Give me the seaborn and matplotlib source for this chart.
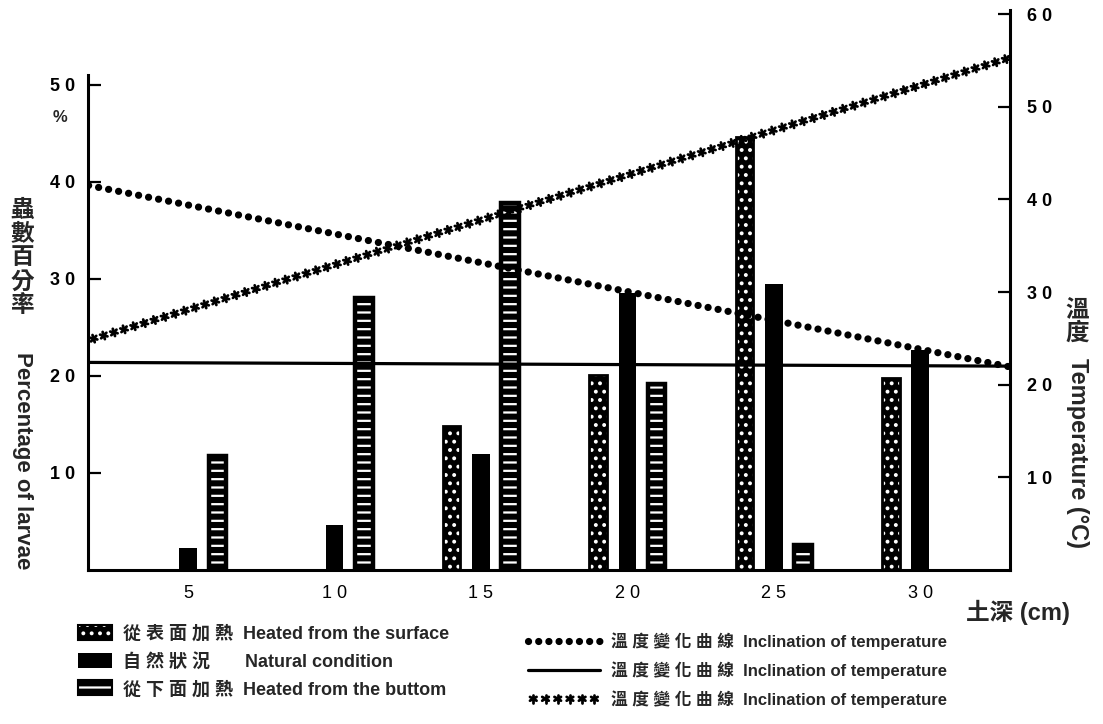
import numpy as np
import pandas as pd
import matplotlib
matplotlib.use("Agg")
import matplotlib.pyplot as plt
import matplotlib.patheffects as pe
from matplotlib.patches import Patch
from matplotlib.lines import Line2D
import matplotlib.colors as mcolors
import seaborn as sns

# ---------------- data ----------------
depths = [5, 10, 15, 20, 25, 30]
treatments = ["surface", "natural", "bottom"]
pct_surface = [0, 0, 14.8, 20.1, 44.6, 19.8]
pct_natural = [2.3, 4.6, 12.0, 28.5, 29.5, 22.7]
pct_bottom = [11.8, 28.0, 37.8, 19.2, 2.6, 0]

line_depth = [1.6, 33.1]
temp_surface = [41.5, 21.9]
temp_natural = [22.4, 22.0]
temp_bottom = [24.8, 55.3]

x_ticklabels = ["5", "1 0", "1 5", "2 0", "2 5", "3 0"]
left_ticks = [10, 20, 30, 40, 50]
left_ticklabels = ["1 0", "2 0", "3 0", "4 0", "5 0"]
right_ticks = [10, 20, 30, 40, 50, 60]
right_ticklabels = ["1 0", "2 0", "3 0", "4 0", "5 0", "6 0"]

bar_labels = ["從 表 面 加 熱  Heated from the surface",
              "自 然 狀 況       Natural condition",
              "從 下 面 加 熱  Heated from the buttom"]
line_labels = ["溫 度 變 化 曲 線  Inclination of temperature"] * 3

# ---------------- style ----------------
sns.set_theme(style="white")
plt.rcParams["font.family"] = ["Liberation Sans", "Noto Sans CJK TC"]
plt.rcParams["hatch.linewidth"] = 1.6

W, H = 1103, 724
fig = plt.figure(figsize=(W / 100, H / 100), dpi=100)
fig.patch.set_facecolor("white")


def fx(px):
    return px / W


def fy(py):
    return 1 - py / H


WHITE = mcolors.to_rgba("white")
hatches = ["..", None, "--"]
edge_lw = [2.0, 0, 3.2]


def style_bar(p, h, lw):
    p.set_facecolor("black")
    p.set_edgecolor("black")
    p.set_linewidth(lw)
    if h:
        p.set_hatch(h)
        p._hatch_color = WHITE
    if p.get_height() == 0:
        p.set_visible(False)


ax = fig.add_axes([fx(88), fy(570), fx(1010) - fx(88), fy(14) - fy(570)])
ax.set_facecolor("white")

df = pd.DataFrame({
    "depth": depths * 3,
    "treatment": np.repeat(treatments, len(depths)),
    "pct": pct_surface + pct_natural + pct_bottom,
})
sns.barplot(data=df, x="depth", y="pct", hue="treatment", hue_order=treatments,
            native_scale=True, width=0.6, gap=0.4, palette=["black"] * 3,
            errorbar=None, legend=False, ax=ax)

for cont, h, lw in zip(ax.containers, hatches, edge_lw):
    for bar in cont:
        style_bar(bar, h, lw)

ax.set_xlim(1.58, 33.07)
ax.set_ylim(0, 57.3)
ax.set_xlabel("")
ax.set_ylabel("")
ax.set_xticks(depths, x_ticklabels, fontsize=13)
ax.set_yticks(left_ticks, left_ticklabels, fontsize=13, fontweight="bold")
ax.tick_params(axis="x", length=0, pad=11, colors="black")
ax.tick_params(axis="y", direction="in", length=9, width=1.6, left=True,
               pad=9, colors="black")
for s in ["top", "right"]:
    ax.spines[s].set_visible(False)
ax.spines["left"].set_bounds(0, 51)
for s in ["left", "bottom"]:
    ax.spines[s].set_color("black")
    ax.spines[s].set_linewidth(2.2)

# ---- temperature lines on twin axis ----
ax2 = ax.twinx()
ax2.set_ylim(0, 60)
sns.lineplot(x=line_depth, y=temp_natural, ax=ax2, color="black", lw=2.3,
             errorbar=None)
sns.lineplot(x=line_depth, y=temp_surface, ax=ax2, color="black", lw=5.2,
             linestyle=(0, (0.01, 1.4)), dash_capstyle="round", errorbar=None)
star_fx = [pe.TickedStroke(spacing=7.6, angle=a, length=0.36, linewidth=2.0)
           for a in (90, -90, 30, -30, 150, -150)]
sns.lineplot(x=line_depth, y=temp_bottom, ax=ax2, color="black", lw=2.0,
             path_effects=star_fx, errorbar=None)
ax2.set_xlim(1.58, 33.07)
ax2.set_ylabel("")
ax2.set_yticks(right_ticks, right_ticklabels, fontsize=13, fontweight="bold")
ax2.tick_params(axis="y", direction="in", length=9, width=1.6, right=True,
                pad=12, colors="black")
for s in ["top", "left", "bottom"]:
    ax2.spines[s].set_visible(False)
ax2.spines["right"].set_bounds(0, 60.4)
ax2.spines["right"].set_color("black")
ax2.spines["right"].set_linewidth(2.2)

# ---------------- texts ----------------
fig.text(fx(60), fy(118), "%", fontsize=12, fontweight="bold", ha="center", va="center")
fig.text(fx(22), fy(258), "蟲\n數\n百\n分\n率", fontsize=17, fontweight="bold",
         ha="center", va="center", linespacing=1.05)
fig.text(fx(22), fy(461), "Percentage of larvae", fontsize=16, fontweight="bold",
         rotation=270, ha="center", va="center")
fig.text(fx(1077), fy(322), "溫\n度", fontsize=17, fontweight="bold",
         ha="center", va="center", linespacing=1.0)
fig.text(fx(1077), fy(453), "Temperature (°C)", fontsize=17, fontweight="bold",
         rotation=270, ha="center", va="center")
fig.text(fx(1018), fy(612), "土深 (cm)", fontsize=17, fontweight="bold",
         ha="center", va="center")

# ---------------- legends ----------------
bar_handles = []
for h, lw in zip(hatches, edge_lw):
    p = Patch(facecolor="black", edgecolor="black", hatch=h, lw=min(lw, 1.5))
    if h:
        p._hatch_color = WHITE
    bar_handles.append(p)
fig.legend(bar_handles, bar_labels, loc="upper left",
           bbox_to_anchor=(fx(78), fy(625)), frameon=False,
           handlelength=1.9, handleheight=0.9, handletextpad=0.6,
           labelspacing=0.55, borderpad=0, borderaxespad=0,
           prop={"size": 13, "weight": "bold"})

line_handles = [
    Line2D([], [], color="black", lw=5.2, linestyle=(0, (0.01, 1.4)),
           dash_capstyle="round"),
    Line2D([], [], color="black", lw=2.3),
    Line2D([], [], color="black", lw=2.0, path_effects=star_fx),
]
fig.legend(line_handles, line_labels, loc="upper left",
           bbox_to_anchor=(fx(528), fy(632)), frameon=False,
           handlelength=4.3, handletextpad=0.7,
           labelspacing=0.68, borderpad=0, borderaxespad=0,
           prop={"size": 12, "weight": "bold"})

fig.savefig("out.png", dpi=100, facecolor="white")
